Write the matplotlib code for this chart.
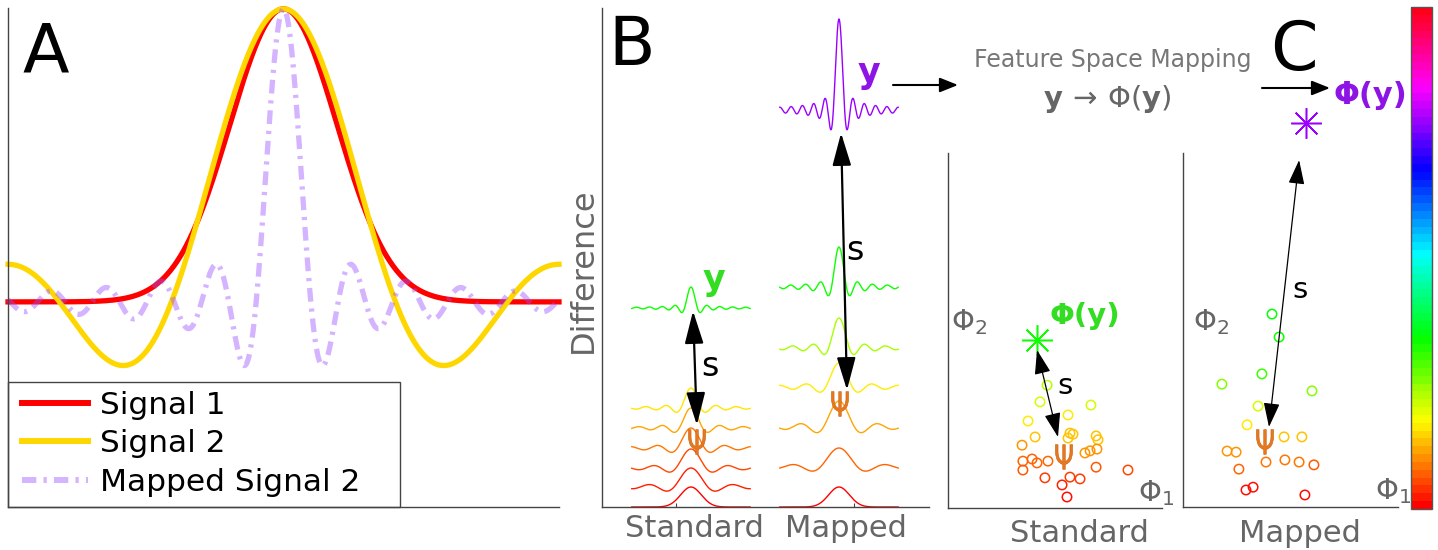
import numpy as np
import matplotlib

matplotlib.use("Agg")
import matplotlib.pyplot as plt
import matplotlib as mpl
import matplotlib.transforms as mtrans
from matplotlib.colors import ListedColormap
from matplotlib.lines import Line2D
from matplotlib.patches import Rectangle, PathPatch
from matplotlib.textpath import TextPath
from matplotlib.font_manager import FontProperties

plt.rcParams['font.family'] = ['DejaVu Sans']
plt.rcParams['mathtext.fontset'] = 'dejavusans'

W, H = 1438, 550
GRAY = '#666666'
SPINE = '#444444'

# --- panel A: signal parameters (sinc / gaussian) ---
A_T_MAX = 7.725
A_GAUSS_SIGMA = 1.5
A_MAPPED_FREQ = 4.1
LEGEND_LABELS = ['Signal 1', 'Signal 2', 'Mapped Signal 2']

# --- panel B: stacked wavelets (offset, height, frequency, hue) ---
STD_OFFSETS = [0.0, 2.0, 3.9, 5.9, 7.9, 9.9, 19.9]
STD_HEIGHTS = [2.0, 1.9, 1.9, 2.0, 2.0, 2.0, 2.1]
STD_FREQS = [0, 11, 12.4, 13.7, 16, 18.5, 29]   # 0 = plain gaussian bump
STD_HUES = [0.0, 0.02, 0.05, 0.08, 0.11, 0.155, 0.33]
MAP_OFFSETS = [0.0, 4.0, 8.0, 12.0, 15.9, 22.0, 39.7]
MAP_HEIGHTS = [2.0, 1.9, 2.6, 2.4, 3.0, 4.0, 9.1]
MAP_FREQS = [0, 10, 12, 14, 18, 25, 33]
MAP_HUES = [0.0, 0.07, 0.11, 0.16, 0.23, 0.33, 0.78]
GAUSS_WIDTH = 0.175
B_TICKS = [0.9, 2.1]

# --- panel C: feature space points ---
CS_PHI1 = [4.63, 4.30, 6.68, 3.74, 5.61, 4.07, 5.70, 5.84, 5.61, 6.92, 7.01, 6.96, 3.46, 6.64,
           6.40, 3.50, 3.93, 4.16, 4.67, 3.50, 6.92, 8.41, 4.53, 5.70, 6.17, 5.33, 5.56]
CS_PHI2 = [3.46, 2.99, 2.90, 2.45, 2.62, 2.00, 2.11, 2.08, 1.97, 2.03, 1.92, 1.66, 1.77, 1.61,
           1.55, 1.32, 1.38, 1.27, 1.32, 1.07, 1.15, 1.07, 0.85, 0.87, 0.82, 0.65, 0.31]
CS_HUE = [0.22, 0.20, 0.20, 0.16, 0.16, 0.13, 0.13, 0.13, 0.13, 0.13, 0.13, 0.10, 0.10, 0.10,
          0.10, 0.07, 0.07, 0.07, 0.07, 0.06, 0.06, 0.05, 0.04, 0.04, 0.04, 0.02, 0.01]
CM_PHI1 = [4.14, 4.47, 3.67, 1.81, 6.00, 3.49, 2.98, 4.70, 5.53, 2.05, 2.47, 2.60, 3.86, 4.74,
           5.40, 6.09, 2.93, 3.26, 5.67]
CM_PHI2 = [5.45, 4.80, 3.76, 3.47, 3.28, 2.85, 2.32, 1.98, 1.98, 1.58, 1.55, 1.07, 1.27, 1.33,
           1.27, 1.19, 0.48, 0.56, 0.34]
CM_HUE = [0.34, 0.33, 0.30, 0.25, 0.25, 0.20, 0.16, 0.13, 0.13, 0.10, 0.10, 0.07, 0.08, 0.08,
          0.08, 0.06, 0.01, 0.01, 0.01]
CS_Y = (4.16, 4.73)
CM_Y = (5.72, 10.85)


def ax_rect(x0, y0, x1, y1):
    # pixel box (top-left origin) -> figure fraction
    return [x0 / W, 1 - y1 / H, (x1 - x0) / W, (y1 - y0) / H]


def clean(ax):
    for s in ['top', 'right']:
        ax.spines[s].set_visible(False)
    for s in ['left', 'bottom']:
        ax.spines[s].set_color(SPINE)
        ax.spines[s].set_linewidth(1.0)
    ax.set_xticks([])
    ax.set_yticks([])
    ax.patch.set_alpha(0)


def darrow(ax, p0, p1, lw, scale, hl, hw):
    ax.annotate('', xy=p1, xytext=p0, annotation_clip=False,
                arrowprops=dict(arrowstyle=f'<|-|>,head_length={hl},head_width={hw}',
                                mutation_scale=scale, lw=lw, color='k',
                                shrinkA=0, shrinkB=0))


fig = plt.figure(figsize=(W / 100, H / 100), dpi=100)

# === A ===
ax_a = fig.add_axes(ax_rect(8, 8, 559, 507))
clean(ax_a)
t = np.linspace(-A_T_MAX, A_T_MAX, 1201)
sig1 = np.exp(-t ** 2 / (2 * A_GAUSS_SIGMA ** 2))
sig2 = np.sinc(t / np.pi)
mapped = np.sinc(A_MAPPED_FREQ * t / np.pi)
MAPPED_COLOR = '#9B4DFF'
MAPPED_LS = (0, (2.6, 1.3, 0.6, 1.3))
ax_a.plot(t, sig1, color='red', lw=3.8, clip_on=False)
ax_a.plot(t, sig2, color='#FFD700', lw=3.8, clip_on=False)
ax_a.plot(t, mapped, color=MAPPED_COLOR, alpha=0.42, lw=3.8, ls=MAPPED_LS, clip_on=False)
ax_a.set_xlim(-A_T_MAX, A_T_MAX)
ax_a.set_ylim(-0.70, 1.003)

handles = [Line2D([], [], color='red', lw=4.3),
           Line2D([], [], color='#FFD700', lw=4.3),
           Line2D([], [], color=MAPPED_COLOR, alpha=0.42, lw=4.3, ls=(0, (2.4, 1.2, 0.55, 1.2)))]
ax_a.legend(handles, LEGEND_LABELS, loc='upper left',
            bbox_to_anchor=((22 - 8) / 551, (507 - 391) / 499), frameon=False,
            fontsize=22.5, borderpad=0, borderaxespad=0, handlelength=2.1,
            handletextpad=0.41, labelspacing=0.30)
ax_a.add_patch(Rectangle((0, 0), (400 - 8) / 551, (507 - 382) / 499, transform=ax_a.transAxes,
                         fill=False, ec=SPINE, lw=1.0, clip_on=False))

# === B ===
ax_b = fig.add_axes(ax_rect(602, 8, 929, 507))
clean(ax_b)
u = np.linspace(-1, 1, 800)
for col, offs, hts, freqs, hues in [(1, STD_OFFSETS, STD_HEIGHTS, STD_FREQS, STD_HUES),
                                    (2, MAP_OFFSETS, MAP_HEIGHTS, MAP_FREQS, MAP_HUES)]:
    for off, h, k, hue in zip(offs, hts, freqs, hues):
        if k == 0:
            shape = np.exp(-u ** 2 / (2 * GAUSS_WIDTH ** 2))
        else:
            shape = np.sinc(k * u / np.pi)
        ax_b.plot(col + 0.4 * u, off + h * shape, color=plt.cm.hsv(hue), lw=1.0, clip_on=False)
ax_b.set_xlim(0.399, 2.608)
ax_b.set_ylim(0, 49.9)
ax_b.set_xticks(B_TICKS)
ax_b.set_xticklabels([])
ax_b.tick_params(axis='x', direction='in', length=3, color=SPINE)

darrow(ax_b, (1.014, 19.6), (1.04, 8.2), 1.6, 25, 0.8, 0.23)
darrow(ax_b, (2.014, 37.4), (2.054, 11.7), 1.6, 25, 0.8, 0.23)

# === C ===
ax_cs = fig.add_axes(ax_rect(948, 153, 1162, 508))
ax_cm = fig.add_axes(ax_rect(1183, 153, 1398, 507))
for ax, p1, p2, hue in [(ax_cs, CS_PHI1, CS_PHI2, CS_HUE), (ax_cm, CM_PHI1, CM_PHI2, CM_HUE)]:
    clean(ax)
    ax.scatter(p1, p2, s=46, facecolors='none', edgecolors=[plt.cm.hsv(h) for h in hue],
               linewidths=1.1, clip_on=False)
    ax.set_xlim(0, 10)
    ax.set_ylim(0, 10)

ax_cs.plot(*CS_Y, marker=(8, 2, 0), ms=22, mew=1.1, color=plt.cm.hsv(0.33), clip_on=False)
ax_cm.plot(*CM_Y, marker=(8, 2, 0), ms=22, mew=1.1, color=plt.cm.hsv(0.78), clip_on=False)
darrow(ax_cs, (4.16, 4.45), (5.14, 2.00), 0.9, 20, 0.75, 0.25)
darrow(ax_cm, (5.40, 9.80), (4.00, 2.26), 0.9, 20, 0.75, 0.25)

# colorbar
cax = fig.add_axes(ax_rect(1411, 7, 1432, 509))
cmap64 = ListedColormap(plt.cm.hsv(np.linspace(0, 1, 64)))
cb = mpl.colorbar.ColorbarBase(cax, cmap=cmap64, orientation='vertical')
cb.set_ticks([])
cb.outline.set_edgecolor('#555555')
cb.outline.set_linewidth(1.0)

# === overlay for labels / annotations (pixel coords) ===
ov = fig.add_axes([0, 0, 1, 1], zorder=10)
ov.set_xlim(0, W)
ov.set_ylim(H, 0)
ov.axis('off')
ov.patch.set_alpha(0)

for letter, x, y in [('A', 46, 72), ('B', 632, 65), ('C', 1294, 70)]:
    ov.text(x, y, letter, fontsize=49, ha='center', va='baseline', color='k')

ov.text(583, 270, 'Difference', rotation=90, fontsize=23, color=GRAY, ha='center', va='center')
for s, x, y in [('Standard', 694, 537), ('Mapped', 846, 537),
                ('Standard', 1079, 542), ('Mapped', 1300, 542)]:
    ov.text(x, y, s, fontsize=22, color=GRAY, ha='center', va='baseline')

for x, y, fs in [(710, 366, 24), (855, 251, 24), (1065, 386, 21), (1300, 290, 21)]:
    ov.text(x, y, 's', fontsize=fs, color='k', ha='center', va='center')

ov.text(714, 290, 'y', fontsize=25, fontweight='bold', color='#33DD22', ha='center', va='baseline')
ov.text(869, 83, 'y', fontsize=25, fontweight='bold', color='#8E14E6', ha='center', va='baseline')
ov.text(1085, 316, 'Φ(y)', fontsize=21, fontweight='bold', color='#33DD22', ha='center', va='center')
ov.text(1370, 95, 'Φ(y)', fontsize=22, fontweight='bold', color='#8E14E6', ha='center', va='center')

ov.text(1113, 67, 'Feature Space Mapping', fontsize=17, color='#777777', ha='center', va='baseline')
ov.text(1107, 99, r'$\mathbf{y}\,\rightarrow\,\Phi(\mathbf{y})$', fontsize=21, color=GRAY,
        ha='center', va='center')

for x0, x1, y in [(893, 958, 85), (1262, 1330, 88)]:
    ov.annotate('', xy=(x1, y), xytext=(x0, y),
                arrowprops=dict(arrowstyle='-|>,head_length=0.55,head_width=0.22',
                                mutation_scale=20, lw=1.5, color='k', shrinkA=0, shrinkB=0))

for s, x, y in [(r'$\Phi_2$', 951, 322), (r'$\Phi_1$', 1138, 493),
                (r'$\Phi_2$', 1193, 322), (r'$\Phi_1$', 1375, 491)]:
    ov.text(x, y, s, fontsize=21, color=GRAY, ha='left', va='center')

# narrow orange Psi glyphs (mean markers), drawn as scaled text paths
psi_path = TextPath((0, 0), 'Ψ', size=34, prop=FontProperties(family='DejaVu Sans'))
ext = psi_path.get_extents()
for x, y in [(697, 442), (840, 404), (1064, 457), (1265, 442)]:
    tr = (mtrans.Affine2D()
          .translate(-(ext.x0 + ext.x1) / 2, -(ext.y0 + ext.y1) / 2)
          .scale(0.75, -1.0)
          .translate(x, y))
    ov.add_patch(PathPatch(tr.transform_path(psi_path), fc='#E8781E', ec='#C8600E', lw=0.4))

fig.savefig('out.png', dpi=100, facecolor='white')
plt.close(fig)
